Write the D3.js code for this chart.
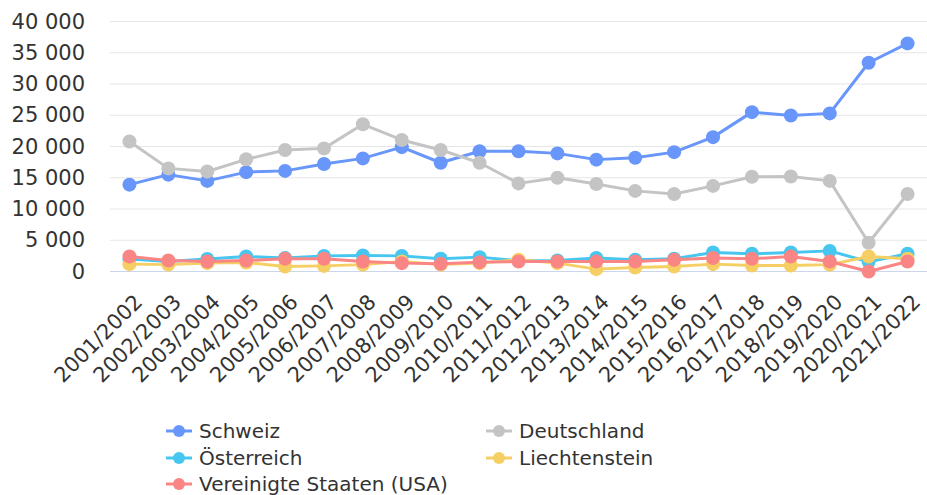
<!DOCTYPE html>
<html><head><meta charset="utf-8">
<script src="https://cdn.jsdelivr.net/npm/d3@7"></script>
<style>body{margin:0;background:#fff;} text{font-family:"DejaVu Sans",sans-serif;fill:#333;}</style>
</head><body><svg id="c" width="927" height="495"></svg>
<script>
const categories = ["2001/2002","2002/2003","2003/2004","2004/2005","2005/2006","2006/2007","2007/2008","2008/2009","2009/2010","2010/2011","2011/2012","2012/2013","2013/2014","2014/2015","2015/2016","2016/2017","2017/2018","2018/2019","2019/2020","2020/2021","2021/2022"];
const schweiz = [13900,15500,14500,15900,16100,17200,18100,19900,17400,19250,19250,18900,17900,18200,19100,21500,25500,24950,25300,33400,36500];
const deutschland = [20800,16500,16000,17950,19450,19700,23550,21050,19450,17400,14100,15000,14000,12900,12400,13700,15150,15200,14500,4600,12400];
const oesterreich = [2000,1600,2000,2400,2150,2500,2550,2500,2030,2300,1700,1760,2150,1900,2030,3040,2830,3040,3300,1550,2830];
const liechtenstein = [1180,1100,1340,1440,800,900,1100,1600,1100,1340,1870,1340,380,640,800,1180,960,960,1100,2400,2030];
const usa = [2400,1760,1600,1760,2030,2030,1600,1340,1230,1500,1600,1600,1600,1600,1870,2150,2030,2400,1600,0,1600];
const yTicks = [0,5000,10000,15000,20000,25000,30000,35000,40000];
const seriesNames = ["Schweiz","Deutschland","Österreich","Liechtenstein","Vereinigte Staaten (USA)"];
const seriesColors = ["#6896fa","#c4c4c4","#47c6ef","#f6cf64","#fa8585"];
const seriesValues = [schweiz,deutschland,oesterreich,liechtenstein,usa];

const svg = d3.select("#c");
const pL = 110, pR = 927, pT = 21.5, pB = 271.5;
const x = d3.scalePoint().domain(categories).range([pL,pR]).padding(0.5);
const y = d3.scaleLinear().domain([0,40000]).range([pB,pT]);
const fmt = v => d3.format(",")(v).replace(/,/g," ");
const FONT = "'DejaVu Sans', sans-serif";

// grid
svg.append("g").selectAll("line").data(yTicks.filter(d=>d>0)).join("line")
  .attr("x1",pL).attr("x2",pR).attr("y1",d=>y(d)).attr("y2",d=>y(d))
  .attr("stroke","#e6e6e6").attr("stroke-width",1);
svg.append("line").attr("x1",pL).attr("x2",pR).attr("y1",y(0)).attr("y2",y(0)).attr("stroke","#ccd6eb");

// y axis labels
const yAxis = d3.axisLeft(y).tickValues(yTicks).tickFormat(fmt).tickSize(0).tickPadding(0);
const ya = svg.append("g").attr("transform","translate(85,0)").call(yAxis);
ya.select(".domain").remove();
ya.selectAll("text").attr("font-size",21).attr("fill","#333").attr("font-family",FONT);

// x axis labels
const xAxis = d3.axisBottom(x).tickSize(0).tickPadding(0);
const xa = svg.append("g").attr("transform","translate(0,298)").call(xAxis);
xa.select(".domain").remove();
xa.selectAll("text").attr("font-size",21).attr("fill","#333").attr("font-family",FONT)
  .attr("text-anchor","end").attr("dy","0.35em").attr("y",0)
  .attr("transform","translate(8.5,0) rotate(-45)");

// series
const line = d3.line().x((d,i)=>x(categories[i])).y(d=>y(d));
seriesValues.forEach((vals,si)=>{
  const g = svg.append("g");
  g.append("path").datum(vals).attr("d",line).attr("fill","none")
    .attr("stroke",seriesColors[si]).attr("stroke-width",3).attr("stroke-linejoin","round");
  g.selectAll("circle").data(vals).join("circle")
    .attr("cx",(d,i)=>x(categories[i])).attr("cy",d=>y(d)).attr("r",7).attr("fill",seriesColors[si]);
});

// legend
const legPos = [[166,431],[486,431],[166,458],[486,458],[166,484]];
seriesNames.forEach((n,i)=>{
  const [lx,ly] = legPos[i];
  const g = svg.append("g").attr("transform",`translate(${lx},${ly})`);
  g.append("line").attr("x1",0).attr("x2",26).attr("y1",0).attr("y2",0).attr("stroke",seriesColors[i]).attr("stroke-width",3);
  g.append("circle").attr("cx",13).attr("cy",0).attr("r",6).attr("fill",seriesColors[i]);
  g.append("text").attr("x",33).attr("y",0).attr("dy","0.35em").attr("font-size",20).attr("font-family",FONT).text(n);
});
</script></body></html>
